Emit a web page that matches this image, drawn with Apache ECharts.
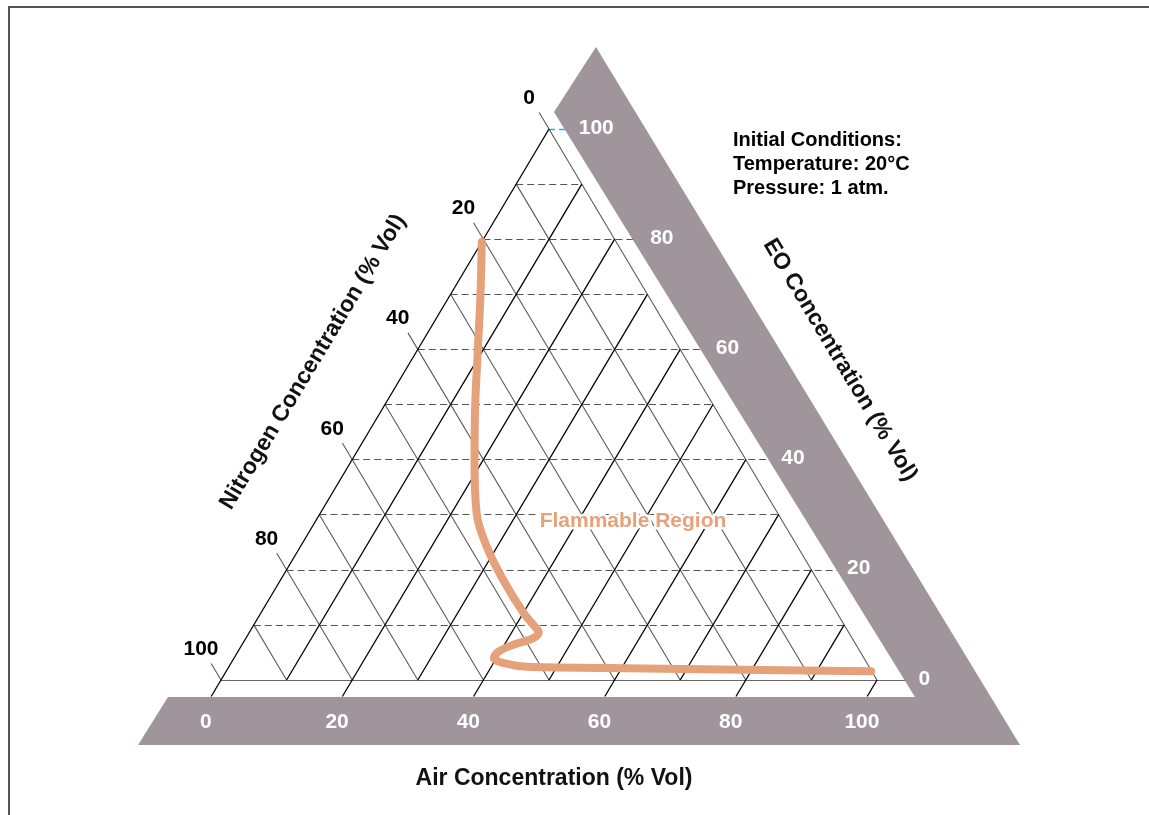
<!DOCTYPE html>
<html>
<head>
<meta charset="utf-8">
<style>
html, body { margin: 0; padding: 0; background: #fff; }
#chart { width: 1149px; height: 815px; }
</style>
<script src="https://cdn.jsdelivr.net/npm/echarts@6/dist/echarts.min.js"></script>
</head>
<body>
<div id="chart"></div>
<script>
// grid lines every 10 %, labels every 20 %
var gridSteps = [0, 10, 20, 30, 40, 50, 60, 70, 80, 90, 100];
var labelTicks = [0, 20, 40, 60, 80, 100];

// flammability limit curve (% Vol)
var curveAir = [0, 4.6, 9.2, 13.8, 18.7, 24.0, 28.5, 33.9, 40.0, 43.1, 44.1, 43.8, 41.3, 39.7, 39.6, 41.4, 45.5, 57.8, 81.3, 98.3];
var curveEO  = [79.5, 69.9, 59.9, 49.9, 39.9, 30.0, 24.1, 18.2, 12.2, 9.6, 8.7, 7.6, 6.35, 5.1, 4.0, 3.1, 2.4, 2.2, 1.8, 1.6];

var FONT = '"Liberation Sans", Arial, sans-serif';
var BAND = '#a0959a';
var ORANGE = '#e5a17a';

// ternary (air, EO) -> cartesian; nitrogen = 100 - air - EO
function toXY(air, eo) {
    return [air + eo / 2, eo];
}

var eoLines = [], n2Lines = [], airLines = [];
for (var i = 0; i < gridSteps.length; i++) {
    var v = gridSteps[i];
    var major = v % 20 === 0;
    var ext = major ? 3 : 0;

    // EO = const (horizontal)
    var eoStyle = { color: '#555', width: 1.1, type: [7, 4], opacity: 1 };
    if (v === 0) eoStyle = { color: '#666', width: 1.1, type: 'solid', opacity: 1 };
    if (v === 100) eoStyle = { color: '#29b3e6', width: 1.3, type: [6, 4], opacity: 1 };
    eoLines.push({
        coords: [toXY(0, v), toXY(100 - v + (major ? 8 : 0), v)],
        lineStyle: eoStyle
    });

    // nitrogen = const (parallel to right side)
    n2Lines.push({ coords: [toXY(-ext, 100 - v + ext), toXY(100 - v, 0)] });

    // air = const (parallel to left side)
    airLines.push({ coords: [toXY(v, -ext), toXY(v, 100 - v)] });
}

var curve = [];
for (var i = 0; i < curveAir.length; i++) {
    curve.push(toXY(curveAir[i], curveEO[i]));
}

var n2Labels = [], eoLabels = [], airLabels = [];
for (var i = 0; i < labelTicks.length; i++) {
    var t = labelTicks[i];
    var p = toXY(0, 100 - t);
    n2Labels.push([p[0] - 3.05, p[1] + 5.6, t]);
    var q = toXY(100 - t, t);
    eoLabels.push([q[0] + 7.2, q[1] + 0.2, t]);
    airLabels.push([t - 2.3, -7.7, t]);
}

// grey frame behind the EO and air scales, in the same data space
var bandShape = [[50.76, 103.09], [57.16, 114.88], [121.8, -11.8], [-12.65, -11.8], [-8.08, -3.09], [105.79, -3.09]];

function labelSeries(data, color) {
    return {
        type: 'scatter',
        data: data,
        symbolSize: 0,
        clip: false,
        z: 6,
        silent: true,
        itemStyle: { opacity: 1 },
        label: {
            show: true,
            position: 'inside',
            formatter: function (p) { return p.value[2]; },
            color: color,
            opacity: 1,
            fontFamily: FONT,
            fontWeight: 'bold',
            fontSize: 21
        }
    };
}

var chart = echarts.init(document.getElementById('chart'));
var option = {
    animation: false,
    grid: { left: 221, top: 129, width: 656, height: 551 },
    xAxis: { type: 'value', min: 0, max: 100, show: false },
    yAxis: { type: 'value', min: 0, max: 100, show: false },
    series: [
        {
            type: 'lines', coordinateSystem: 'cartesian2d', clip: false, z: 1, silent: true,
            data: eoLines
        },
        {
            type: 'lines', coordinateSystem: 'cartesian2d', clip: false, z: 1, silent: true,
            lineStyle: { color: '#5a5a5a', width: 1.1, opacity: 1 },
            data: n2Lines
        },
        {
            type: 'lines', coordinateSystem: 'cartesian2d', clip: false, z: 2, silent: true,
            lineStyle: { color: '#000', width: 1.3, opacity: 1 },
            data: airLines
        },
        {
            type: 'custom', clip: false, z: 3, silent: true,
            data: [0],
            renderItem: function (params, api) {
                var pts = bandShape.map(function (b) { return api.coord(b); });
                return { type: 'polygon', shape: { points: pts }, style: { fill: BAND } };
            }
        },
        {
            type: 'line', data: curve, clip: false, z: 4, silent: true,
            smooth: 0.35, showSymbol: false,
            lineStyle: { color: ORANGE, width: 8, cap: 'round', join: 'round', opacity: 1 }
        },
        labelSeries(n2Labels, '#000'),
        labelSeries(eoLabels, '#fff'),
        labelSeries(airLabels, '#fff')
    ],
    graphic: [
        {
            type: 'rect', z: 0, silent: true,
            shape: { x: 9, y: 7, width: 1300, height: 900 },
            style: { fill: 'none', stroke: '#555', lineWidth: 2 }
        },
        {
            type: 'text', x: 313, y: 362, rotation: 59 * Math.PI / 180, z: 10,
            style: { text: 'Nitrogen Concentration (% Vol)', font: 'bold 23px ' + FONT, fill: '#111', align: 'center', verticalAlign: 'middle' }
        },
        {
            type: 'text', x: 840, y: 360, rotation: -59 * Math.PI / 180, z: 10,
            style: { text: 'EO Concentration (% Vol)', font: 'bold 23px ' + FONT, fill: '#111', align: 'center', verticalAlign: 'middle' }
        },
        {
            type: 'text', x: 554, y: 779, z: 10,
            style: { text: 'Air Concentration (% Vol)', font: 'bold 23px ' + FONT, fill: '#111', align: 'center', verticalAlign: 'middle' }
        },
        {
            type: 'text', x: 633, y: 521, z: 10,
            style: { text: 'Flammable Region', font: 'bold 21px ' + FONT, fill: ORANGE, stroke: '#fff', lineWidth: 5, align: 'center', verticalAlign: 'middle' }
        },
        {
            type: 'text', x: 733, y: 128, z: 10,
            style: { text: 'Initial Conditions:\nTemperature: 20°C\nPressure: 1 atm.', font: 'bold 20px ' + FONT, lineHeight: 24, fill: '#000', align: 'left', verticalAlign: 'top' }
        }
    ]
};
chart.setOption(option);
</script>
</body>
</html>
